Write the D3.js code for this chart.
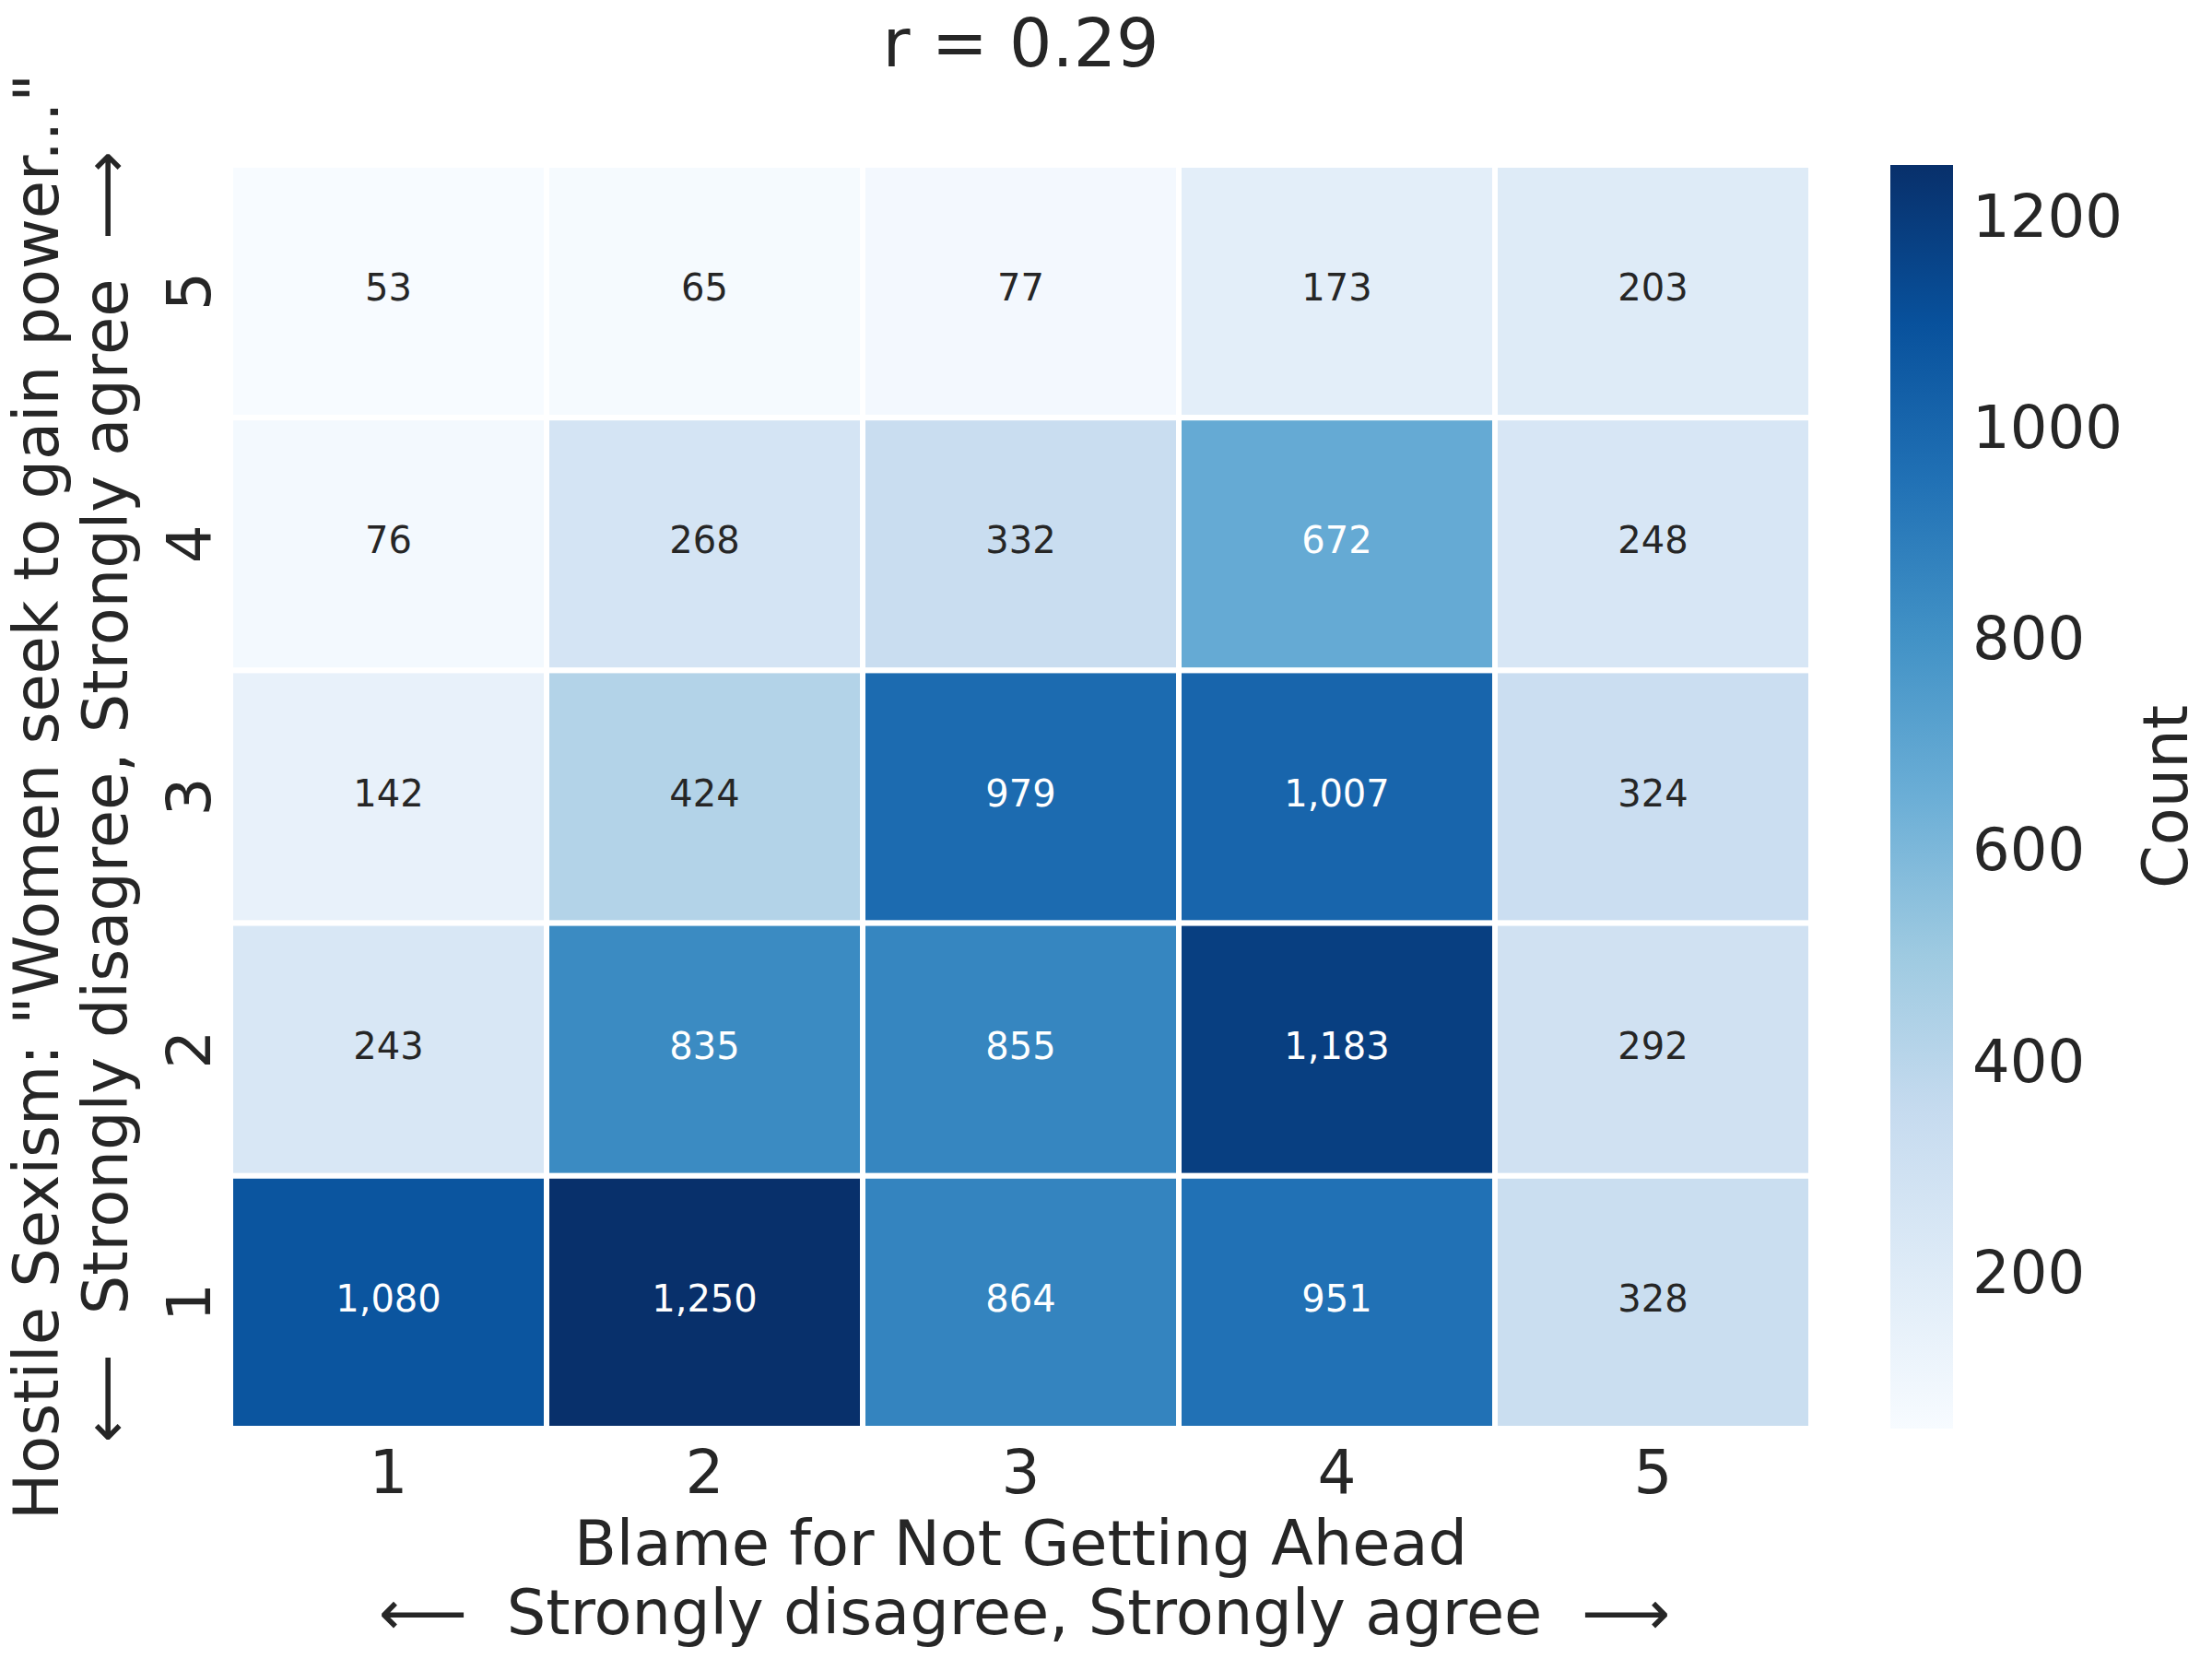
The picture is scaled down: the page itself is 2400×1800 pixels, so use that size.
<!DOCTYPE html>
<html>
<head>
<meta charset="utf-8">
<script src="https://cdn.jsdelivr.net/npm/d3@7"></script>
<style>
  body { margin: 0; background: #fff; }
  text { font-family: "DejaVu Sans", sans-serif; fill: #262626; }
</style>
</head>
<body>
<svg id="chart" width="2400" height="1800"></svg>
<script>
// blame score (x) and hostile sexism score (y)
const xLabels = ["1", "2", "3", "4", "5"]
const yLabels = ["5", "4", "3", "2", "1"]   // top to bottom
const counts = [
  [53, 65, 77, 173, 203],
  [76, 268, 332, 672, 248],
  [142, 424, 979, 1007, 324],
  [243, 835, 855, 1183, 292],
  [1080, 1250, 864, 951, 328],
]
const cbarTicks = [200, 400, 600, 800, 1000, 1200]
const blues = ["#f7fbff", "#deebf7", "#c6dbef", "#9ecae1", "#6baed6", "#4292c6", "#2171b5", "#08519c", "#08306b"]

const svg = d3.select("#chart")
const plotLeft = 250, plotRight = 1965, plotTop = 179, plotBottom = 1550

const cells = []
counts.forEach((row, i) => row.forEach((v, j) => cells.push({ x: xLabels[j], y: yLabels[i], v: v })))

const vmin = d3.min(cells, d => d.v)
const vmax = d3.max(cells, d => d.v)

// matplotlib Blues is a linear ramp over the 9 colorbrewer stops
const color = d3.scaleLinear()
  .domain(blues.map((c, i) => vmin + (vmax - vmin) * i / (blues.length - 1)))
  .range(blues)
  .interpolate(d3.interpolateRgb)

const x = d3.scaleBand().domain(xLabels).range([plotLeft, plotRight])
const y = d3.scaleBand().domain(yLabels).range([plotTop, plotBottom])

function lum(c) {
  const rgb = d3.rgb(c)
  const f = v => { v /= 255; return v <= 0.03928 ? v / 12.92 : Math.pow((v + 0.055) / 1.055, 2.4) }
  return 0.2126 * f(rgb.r) + 0.7152 * f(rgb.g) + 0.0722 * f(rgb.b)
}

svg.append("g")
  .selectAll("rect")
  .data(cells)
  .enter()
  .append("rect")
  .attr("x", d => x(d.x))
  .attr("y", d => y(d.y))
  .attr("width", x.bandwidth())
  .attr("height", y.bandwidth())
  .attr("fill", d => color(d.v))
  .attr("stroke", "#fff")
  .attr("stroke-width", 6)

svg.append("g")
  .selectAll("text")
  .data(cells)
  .enter()
  .append("text")
  .attr("x", d => x(d.x) + x.bandwidth() / 2)
  .attr("y", d => y(d.y) + y.bandwidth() / 2 + 10)
  .attr("text-anchor", "middle")
  .style("font-size", "40px")
  .style("fill", d => lum(color(d.v)) > 0.408 ? "#262626" : "#ffffff")
  .text(d => d3.format(",")(d.v))

// x tick labels
const xAxis = svg.append("g")
  .attr("transform", `translate(0,${plotBottom})`)
  .call(d3.axisBottom(x).tickSize(0).tickPadding(0))
xAxis.select(".domain").remove()
xAxis.selectAll("text")
  .attr("y", 70)
  .attr("dy", null)
  .style("font-size", "66px")
  .style("fill", "#262626")

// y tick labels, rotated
const yAxis = svg.append("g")
  .attr("transform", `translate(${plotLeft},0)`)
  .call(d3.axisLeft(y).tickSize(0))
yAxis.select(".domain").remove()
yAxis.selectAll("text")
  .attr("x", null)
  .attr("dy", null)
  .attr("text-anchor", "middle")
  .attr("transform", "translate(-22,0) rotate(-90)")
  .style("font-size", "66px")
  .style("fill", "#262626")

const midX = (plotLeft + plotRight) / 2
const midY = (plotTop + plotBottom) / 2
const scaleLine = "\u27F5  Strongly disagree, Strongly agree  \u27F6"

svg.append("text")
  .attr("x", midX)
  .attr("y", 72)
  .attr("text-anchor", "middle")
  .style("font-size", "73px")
  .text("r = 0.29")

svg.append("text")
  .attr("x", midX)
  .attr("y", 1698)
  .attr("text-anchor", "middle")
  .style("font-size", "67px")
  .text("Blame for Not Getting Ahead")
svg.append("text")
  .attr("x", midX + 4)
  .attr("y", 1773)
  .attr("text-anchor", "middle")
  .style("font-size", "67px")
  .style("white-space", "pre")
  .text(scaleLine)

svg.append("text")
  .attr("transform", `translate(63,${midY}) rotate(-90)`)
  .attr("text-anchor", "middle")
  .style("font-size", "67px")
  .text("Hostile Sexism: \"Women seek to gain power...\"")
svg.append("text")
  .attr("transform", `translate(138,${midY}) rotate(-90)`)
  .attr("text-anchor", "middle")
  .style("font-size", "67px")
  .style("white-space", "pre")
  .text(scaleLine)

// colorbar
const cbX = 2051, cbW = 68
const cbScale = d3.scaleLinear().domain([vmin, vmax]).range([plotBottom, plotTop])

const grad = svg.append("defs").append("linearGradient")
  .attr("id", "cbar")
  .attr("x1", 0).attr("y1", 1).attr("x2", 0).attr("y2", 0)
grad.selectAll("stop")
  .data(color.domain())
  .enter()
  .append("stop")
  .attr("offset", d => (d - vmin) / (vmax - vmin))
  .attr("stop-color", d => color(d))

svg.append("rect")
  .attr("x", cbX)
  .attr("y", plotTop)
  .attr("width", cbW)
  .attr("height", plotBottom - plotTop)
  .attr("fill", "url(#cbar)")

const cbAxis = svg.append("g")
  .attr("transform", `translate(${cbX + cbW},0)`)
  .call(d3.axisRight(cbScale).tickValues(cbarTicks).tickFormat(d3.format("d")).tickSize(0).tickPadding(21))
cbAxis.select(".domain").remove()
cbAxis.selectAll("text")
  .style("font-size", "64px")
  .style("fill", "#262626")

svg.append("text")
  .attr("transform", `translate(2373,${midY}) rotate(-90)`)
  .attr("text-anchor", "middle")
  .style("font-size", "67px")
  .text("Count")
</script>
</body>
</html>
